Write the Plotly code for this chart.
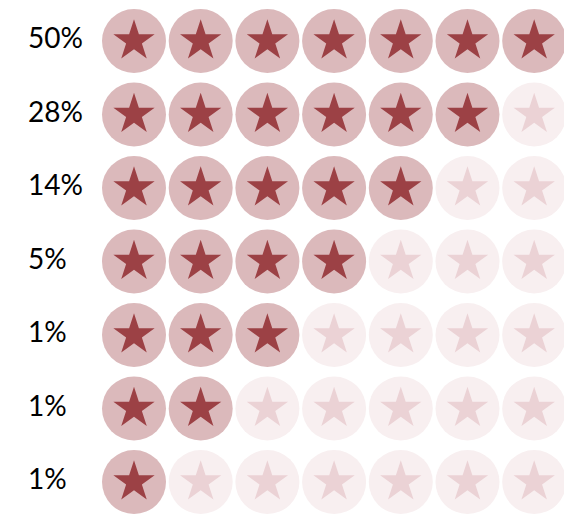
import plotly.graph_objects as go

# Share of respondents per rating row, and number of filled stars in each row
labels = ["50%", "28%", "14%", "5%", "1%", "1%", "1%"]
filled_counts = [7, 6, 5, 4, 3, 2, 1]
n_cols = 7

FILLED_DISC = "#dbb9bb"
FILLED_STAR = "#9c4145"
EMPTY_DISC = "#f8eff0"
EMPTY_STAR = "#ebd2d5"

fx, fy, ex, ey = [], [], [], []
for row, count in enumerate(filled_counts):
    for col in range(n_cols):
        if col < count:
            fx.append(col); fy.append(row)
        else:
            ex.append(col); ey.append(row)

fig = go.Figure()
for xs, ys, disc, star in [(ex, ey, EMPTY_DISC, EMPTY_STAR), (fx, fy, FILLED_DISC, FILLED_STAR)]:
    fig.add_trace(go.Scatter(x=xs, y=ys, mode="markers", hoverinfo="skip",
                             marker=dict(symbol="circle", size=64, color=disc,
                                         line=dict(width=0))))
    fig.add_trace(go.Scatter(x=xs, y=ys, mode="markers", hoverinfo="skip",
                             marker=dict(symbol="star", size=31, color=star,
                                         line=dict(width=0))))

fig.add_trace(go.Scatter(x=[-1.589] * len(labels), y=list(range(len(labels))),
                         mode="text", text=labels, textposition="middle right",
                         hoverinfo="skip",
                         textfont=dict(family="Lato, Carlito, sans-serif", size=28, color="#000000")))

fig.update_layout(
    width=564, height=520,
    margin=dict(l=0, r=0, t=0, b=0),
    paper_bgcolor="white", plot_bgcolor="white",
    showlegend=False,
    xaxis=dict(range=[-2.009, 6.447], visible=False, fixedrange=True),
    yaxis=dict(range=[6.517, -0.558], visible=False, fixedrange=True),
)

fig.write_html("out.html")
